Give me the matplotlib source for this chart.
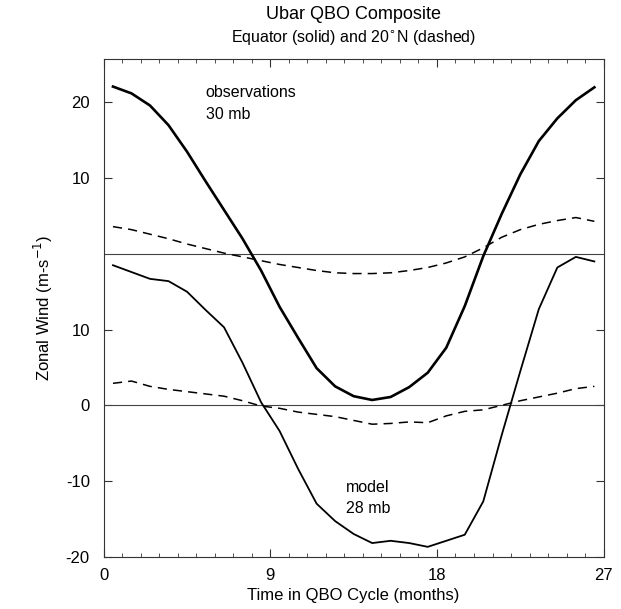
import numpy as np
import matplotlib
matplotlib.use("Agg")
import matplotlib.pyplot as plt
from matplotlib.ticker import FixedLocator, FixedFormatter, MultipleLocator

plt.rcParams['font.family'] = ['Liberation Sans', 'DejaVu Sans']

# months (mid-month), 0.5 .. 26.5
months = np.arange(27) + 0.5

# observations, 30 mb (upper panel)
obs_eq = [22.1, 21.2, 19.6, 17.0, 13.5, 9.6, 5.8, 2.0, -2.2, -7.0, -11.1, -15.1, -17.5, -18.8,
          -19.3, -18.9, -17.6, -15.7, -12.4, -6.9, -0.3, 5.3, 10.5, 14.9, 17.9, 20.3, 22.0]
obs_20n = [3.6, 3.2, 2.6, 2.0, 1.3, 0.7, 0.1, -0.4, -0.9, -1.4, -1.8, -2.2, -2.5, -2.6,
           -2.6, -2.5, -2.2, -1.8, -1.2, -0.4, 0.8, 2.2, 3.2, 3.9, 4.4, 4.8, 4.3]

# model, 28 mb (lower panel)
mod_eq = [18.5, 17.6, 16.7, 16.4, 15.0, 12.6, 10.3, 5.6, 0.4, -3.4, -8.4, -13.0, -15.3, -17.0,
          -18.2, -17.9, -18.2, -18.7, -17.9, -17.1, -12.7, -3.9, 4.5, 12.7, 18.2, 19.6, 19.0]
mod_20n = [2.9, 3.2, 2.5, 2.1, 1.8, 1.5, 1.2, 0.6, -0.1, -0.4, -0.9, -1.2, -1.5, -2.0,
           -2.5, -2.4, -2.2, -2.3, -1.4, -0.8, -0.6, 0.0, 0.6, 1.1, 1.6, 2.2, 2.5]

obs_offset = 20  # upper panel is stacked 20 m/s above the lower one

ytick_pos = [-20, -10, 0, 10, 10 + obs_offset, 20 + obs_offset]
ytick_lab = ['-20', '-10', '0', '10', '10', '20']
xticks = [0, 9, 18, 27]

fig = plt.figure(figsize=(6.21, 6.09), dpi=100)
ax = fig.add_axes([0.167, 0.0859, 0.805, 0.8167])

ax.axhline(0, color='#444444', lw=0.8)
ax.axhline(obs_offset, color='#444444', lw=0.8)

ax.plot(months, np.array(obs_eq) + obs_offset, color='black', lw=1.9)
ax.plot(months, np.array(obs_20n) + obs_offset, color='black', lw=1.1, linestyle=(0, (6, 4)))
ax.plot(months, mod_eq, color='black', lw=1.3)
ax.plot(months, mod_20n, color='black', lw=1.1, linestyle=(0, (6, 4)))

ax.set_xlim(0, 27)
ax.set_ylim(-20, 45.7)

ax.xaxis.set_major_locator(FixedLocator(xticks))
ax.xaxis.set_minor_locator(MultipleLocator(1))
ax.yaxis.set_major_locator(FixedLocator(ytick_pos))
ax.yaxis.set_major_formatter(FixedFormatter(ytick_lab))
ax.tick_params(which='both', direction='in', top=True, right=True, labelsize=12, color='#333333')
ax.tick_params(which='major', length=6, width=0.8)
ax.tick_params(which='minor', length=3, width=0.6)
ax.tick_params(axis='x', pad=8)
ax.tick_params(axis='y', pad=10)
for s in ax.spines.values():
    s.set_linewidth(0.8)
    s.set_color('#333333')

ax.text(5.5, 41.3, 'observations', fontsize=11.5, va='center')
ax.text(5.5, 38.4, '30 mb', fontsize=11.5, va='center')
ax.text(13.1, -10.9, 'model', fontsize=11.5, va='center')
ax.text(13.1, -13.7, '28 mb', fontsize=11.5, va='center')

ax.set_xlabel('Time in QBO Cycle (months)', fontsize=12, labelpad=4)
ax.set_ylabel('Zonal Wind (m-s$^{-1}$)', fontsize=12, labelpad=8)

fig.text(0.569, 0.977, 'Ubar QBO Composite', ha='center', va='center', fontsize=13)
fig.text(0.569, 0.939, 'Equator (solid) and 20$^{\\circ}$N (dashed)', ha='center', va='center', fontsize=11.5)

fig.savefig('out.png', dpi=100)
